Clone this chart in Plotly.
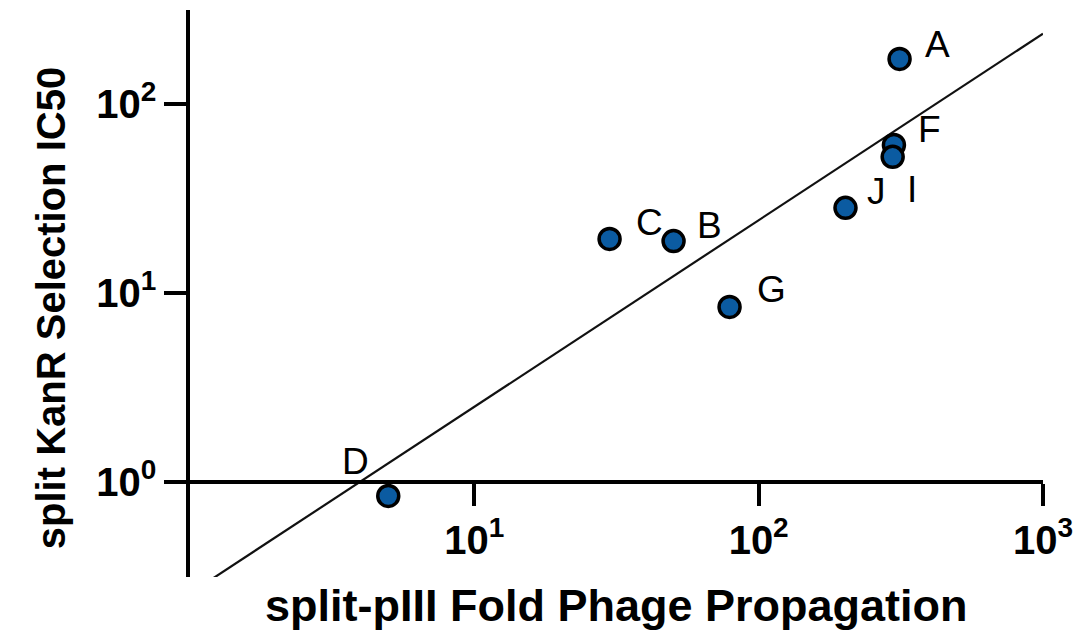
import numpy as np
import plotly.graph_objects as go

# Data (log-log scatter)
labels = ["A", "F", "I", "J", "C", "B", "G", "D"]
fold_propagation = [313, 299, 296, 202, 29.9, 50.2, 79, 4.98]
ic50 = [173, 60.7, 52.5, 28.2, 19.3, 18.8, 8.43, 0.843]

x_tickvals = [10, 100, 1000]
x_ticktext = ["<b>10<sup>1</sup></b>", "<b>10<sup>2</sup></b>", "<b>10<sup>3</sup></b>"]
y_tickvals = [1, 10, 100]
y_ticktext = ["<b>10<sup>0</sup></b>", "<b>10<sup>1</sup></b>", "<b>10<sup>2</sup></b>"]

# label offsets (pixels) relative to each marker
label_dx = [38, 36, 19, 31, 40, 36, 42, -33]
label_dy = [14, 15, -33, 16, 16, 16, 17, 34]

# regression line in log-log space
m, b = np.polyfit(np.log10(fold_propagation), np.log10(ic50), 1)
line_x = np.array([1.0, 1000.0])
line_y = 10 ** (m * np.log10(line_x) + b)

FONT = "Liberation Sans, Arial, sans-serif"

fig = go.Figure()
fig.add_trace(go.Scatter(
    x=line_x, y=line_y, mode="lines",
    line=dict(color="#111111", width=2.2), hoverinfo="skip", showlegend=False,
))
fig.add_trace(go.Scatter(
    x=fold_propagation, y=ic50, mode="markers",
    marker=dict(size=21, color="#0b5ba1", line=dict(color="black", width=3.5)),
    showlegend=False, cliponaxis=False,
))

for lab, xv, yv, dx, dy in zip(labels, fold_propagation, ic50, label_dx, label_dy):
    fig.add_annotation(
        x=np.log10(xv), y=np.log10(yv), xref="x", yref="y", text=lab,
        showarrow=False, xshift=dx, yshift=dy,
        font=dict(family=FONT, size=37, color="black"),
    )

ymin, ymax = -0.503, 2.497
x_axis_pos = (0 - ymin) / (ymax - ymin)

fig.update_xaxes(
    type="log", range=[0, 3.0], anchor="free", position=x_axis_pos,
    tickvals=x_tickvals, ticktext=x_ticktext, automargin=False,
    ticks="outside", ticklen=22, tickwidth=3.5, tickcolor="black",
    showline=True, linewidth=3.5, linecolor="black",
    showgrid=False, zeroline=False,
    tickfont=dict(family=FONT, size=40, color="black"),
)
fig.update_yaxes(
    type="log", range=[ymin, ymax], automargin=False,
    tickvals=y_tickvals, ticktext=y_ticktext,
    ticks="outside", ticklen=22, tickwidth=3.5, tickcolor="black",
    showline=True, linewidth=3.5, linecolor="black",
    showgrid=False, zeroline=False,
    tickfont=dict(family=FONT, size=40, color="black"),
)

fig.add_annotation(
    x=0.5, xref="paper", y=-0.051, yref="paper", xanchor="center", yanchor="middle",
    text="<b>split-pIII Fold Phage Propagation</b>", showarrow=False,
    font=dict(family=FONT, size=45, color="black"),
)
fig.add_annotation(
    x=-0.163, xref="paper", y=0.474, yref="paper", xanchor="center", yanchor="middle",
    textangle=-90,
    text="<b>split KanR Selection IC50</b>", showarrow=False,
    font=dict(family=FONT, size=40, color="black"),
)

fig.update_layout(
    width=1077, height=635,
    margin=dict(l=190, r=34, t=10, b=58, autoexpand=False),
    plot_bgcolor="white", paper_bgcolor="white",
)

fig.write_html("out.html")
